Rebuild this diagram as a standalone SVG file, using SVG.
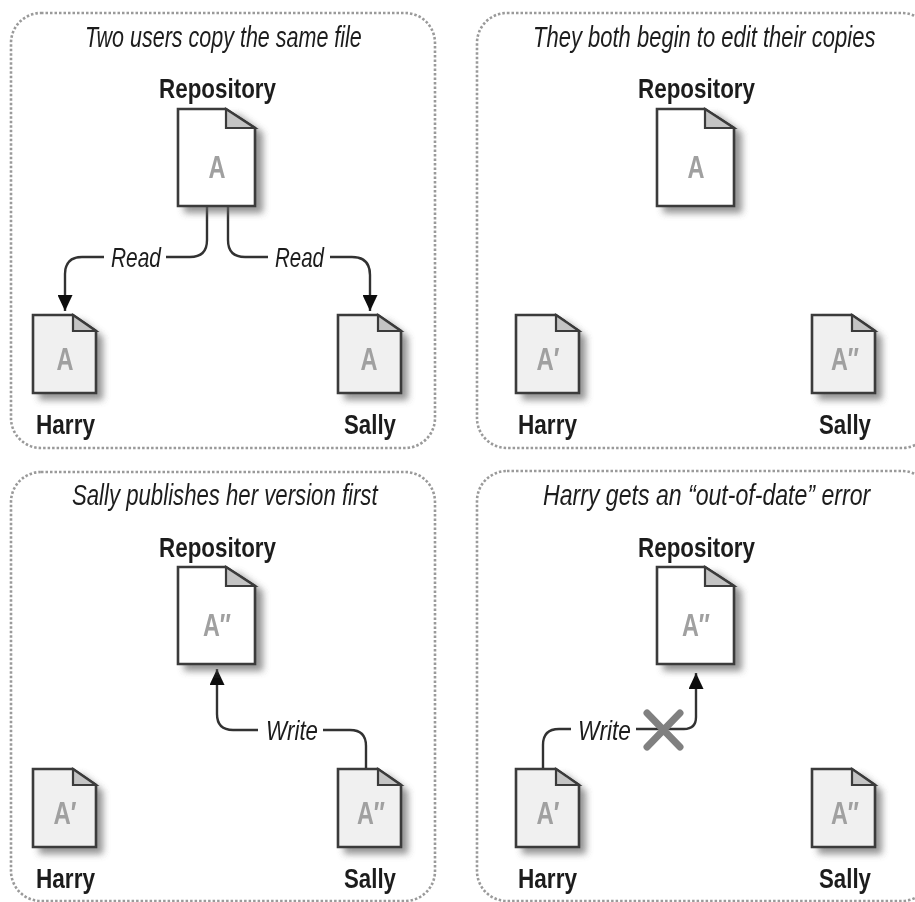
<svg xmlns="http://www.w3.org/2000/svg" width="915" height="902" viewBox="0 0 915 902">
<style>
text{font-family:"Liberation Sans Narrow","Liberation Sans",Arial,sans-serif;fill:#1c1c1c}
.t{font-style:italic;font-size:30px}
.n{font-weight:bold;font-size:28px}
.c{font-style:italic;font-size:28px}
.a{font-weight:bold;font-size:32px;fill:#a0a0a0;text-anchor:middle}
.p{fill:none;stroke:#9a9a9a;stroke-width:2.6;stroke-dasharray:2.5 2}
.l{fill:none;stroke:#333;stroke-width:2.4}
.s{fill:#666;opacity:.7;filter:url(#b)}
.d{stroke:#3a3a3a;stroke-width:2.6;stroke-linejoin:miter}
.f{fill:#c4c4c4;stroke:#3a3a3a;stroke-width:2.2}
</style>
<defs>
<filter id="b" x="-30%" y="-30%" width="160%" height="160%"><feGaussianBlur stdDeviation="3.5"/></filter>
<filter id="soft" filterUnits="userSpaceOnUse" x="0" y="0" width="915" height="902"><feGaussianBlur stdDeviation="0.6"/></filter>
<marker id="ah" markerWidth="16" markerHeight="15" refX="16" refY="7.5" orient="auto" markerUnits="userSpaceOnUse" viewBox="0 0 16 15"><path d="M0 0L16 7.5L0 15Z" fill="#111"/></marker>
<g id="big"><path class="s" d="M6 6H61L85 24V104H6Z"/><path class="d" fill="#fff" d="M0 0H48L77 19V97H0Z"/><path class="f" d="M48 0V19H77Z"/></g>
<g id="small"><path class="s" d="M6 6H50L70 22V85H6Z"/><path class="d" fill="#f0f0f0" d="M0 0H40L63 16V78H0Z"/><path class="f" d="M40 0V16H63Z"/></g>
</defs>
<rect width="915" height="902" fill="#fff"/>
<g filter="url(#soft)">
<g id="panel-1"><rect class="p" x="11" y="13" width="424" height="435" rx="30"/><text class="t" transform="translate(85 46.5) scale(.8 1)" textLength="346" lengthAdjust="spacingAndGlyphs">Two users copy the same file</text></g>
<g id="panel-2"><rect class="p" x="477" y="13" width="455" height="435" rx="30"/><text class="t" transform="translate(533 46.5) scale(.8 1)" textLength="428" lengthAdjust="spacingAndGlyphs">They both begin to edit their copies</text></g>
<g id="panel-3"><rect class="p" x="11" y="472" width="424" height="429" rx="30"/><text class="t" transform="translate(72 505) scale(.8 1)" textLength="382" lengthAdjust="spacingAndGlyphs">Sally publishes her version first</text></g>
<g id="panel-4"><rect class="p" x="477" y="471" width="455" height="430" rx="30"/><text class="t" transform="translate(543 505) scale(.8 1)" textLength="409" lengthAdjust="spacingAndGlyphs">Harry gets an “out-of-date” error</text></g>

<g id="connectors">
<path class="l" d="M207 207V240Q207 257 190 257H166"/>
<path class="l" marker-end="url(#ah)" d="M104 257H82Q65 257 65 274V311"/>
<path class="l" d="M228 207V240Q228 257 245 257H268"/>
<path class="l" marker-end="url(#ah)" d="M330 257H352Q370 257 370 275V311"/>
<path class="l" d="M366 769V746Q366 730 350 730H323"/>
<path class="l" marker-end="url(#ah)" d="M258 730H233Q217 730 217 714V669"/>
<path class="l" d="M543 769V745Q543 729 559 729H571"/>
<path class="l" marker-end="url(#ah)" d="M636 729H684Q696 729 696 717V673"/>
<text class="c" x="111" y="267" textLength="50" lengthAdjust="spacingAndGlyphs">Read</text>
<text class="c" x="275" y="267" textLength="49" lengthAdjust="spacingAndGlyphs">Read</text>
<text class="c" x="266" y="740" textLength="52" lengthAdjust="spacingAndGlyphs">Write</text>
<text class="c" x="578" y="740" textLength="53" lengthAdjust="spacingAndGlyphs">Write</text>
<path d="M647 713L680 747M680 713L647 747" fill="none" stroke="#808080" stroke-width="7" stroke-linecap="round"/>
</g>

<g id="repo-1"><text class="n" x="159" y="98" textLength="117" lengthAdjust="spacingAndGlyphs">Repository</text><use href="#big" x="178" y="109"/><text class="a" x="217" y="178" textLength="17" lengthAdjust="spacingAndGlyphs">A</text></g>
<g id="harry-1"><use href="#small" x="33" y="315"/><text class="a" x="65" y="370" textLength="17" lengthAdjust="spacingAndGlyphs">A</text><text class="n" x="36" y="434" textLength="59" lengthAdjust="spacingAndGlyphs">Harry</text></g>
<g id="sally-1"><use href="#small" x="338" y="315"/><text class="a" x="369" y="370" textLength="17" lengthAdjust="spacingAndGlyphs">A</text><text class="n" x="344" y="434" textLength="52" lengthAdjust="spacingAndGlyphs">Sally</text></g>

<g id="repo-2"><text class="n" x="638" y="98" textLength="117" lengthAdjust="spacingAndGlyphs">Repository</text><use href="#big" x="657" y="109"/><text class="a" x="696" y="178" textLength="17" lengthAdjust="spacingAndGlyphs">A</text></g>
<g id="harry-2"><use href="#small" x="516" y="315"/><text class="a" x="548" y="370" textLength="23" lengthAdjust="spacingAndGlyphs">A′</text><text class="n" x="518" y="434" textLength="59" lengthAdjust="spacingAndGlyphs">Harry</text></g>
<g id="sally-2"><use href="#small" x="812" y="315"/><text class="a" x="845" y="370" textLength="28" lengthAdjust="spacingAndGlyphs">A″</text><text class="n" x="819" y="434" textLength="52" lengthAdjust="spacingAndGlyphs">Sally</text></g>

<g id="repo-3"><text class="n" x="159" y="557" textLength="117" lengthAdjust="spacingAndGlyphs">Repository</text><use href="#big" x="178" y="567"/><text class="a" x="217" y="636" textLength="28" lengthAdjust="spacingAndGlyphs">A″</text></g>
<g id="harry-3"><use href="#small" x="33" y="769"/><text class="a" x="65" y="824" textLength="23" lengthAdjust="spacingAndGlyphs">A′</text><text class="n" x="36" y="888" textLength="59" lengthAdjust="spacingAndGlyphs">Harry</text></g>
<g id="sally-3"><use href="#small" x="338" y="769"/><text class="a" x="371" y="824" textLength="28" lengthAdjust="spacingAndGlyphs">A″</text><text class="n" x="344" y="888" textLength="52" lengthAdjust="spacingAndGlyphs">Sally</text></g>

<g id="repo-4"><text class="n" x="638" y="557" textLength="117" lengthAdjust="spacingAndGlyphs">Repository</text><use href="#big" x="657" y="567"/><text class="a" x="696" y="636" textLength="28" lengthAdjust="spacingAndGlyphs">A″</text></g>
<g id="harry-4"><use href="#small" x="516" y="769"/><text class="a" x="548" y="824" textLength="23" lengthAdjust="spacingAndGlyphs">A′</text><text class="n" x="518" y="888" textLength="59" lengthAdjust="spacingAndGlyphs">Harry</text></g>
<g id="sally-4"><use href="#small" x="812" y="769"/><text class="a" x="845" y="824" textLength="28" lengthAdjust="spacingAndGlyphs">A″</text><text class="n" x="819" y="888" textLength="52" lengthAdjust="spacingAndGlyphs">Sally</text></g>
</g>
</svg>
